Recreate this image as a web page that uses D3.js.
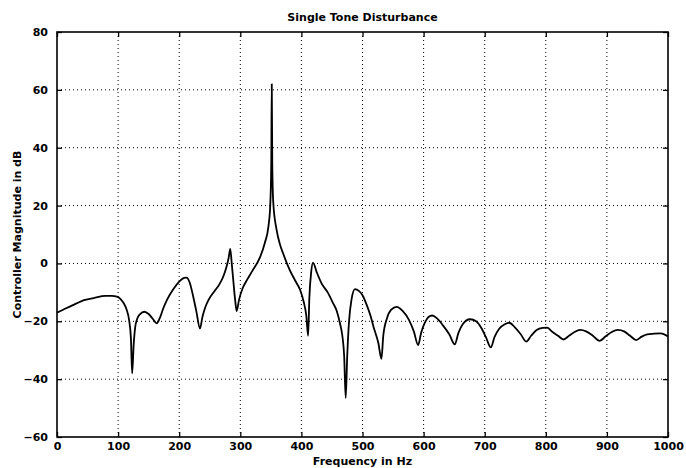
<!DOCTYPE html>
<html>
<head>
<meta charset="utf-8">
<script src="https://cdn.jsdelivr.net/npm/d3@7"></script>
<style>
  html, body { margin: 0; padding: 0; background: #fff; }
  text { font-family: "DejaVu Sans", sans-serif; font-weight: bold; fill: #000; }
</style>
</head>
<body>
<svg id="chart" width="686" height="468"></svg>
<script>
const title = "Single Tone Disturbance";
const xLabel = "Frequency in Hz";
const yLabel = "Controller Magnitude in dB";
const xTicks = [0, 100, 200, 300, 400, 500, 600, 700, 800, 900, 1000];
const yTicks = [-60, -40, -20, 0, 20, 40, 60, 80];

const freq = [0, 10, 25, 46, 60, 79, 90, 98, 104, 109, 114, 118, 121, 123, 125.5, 128, 131, 136, 143, 150,
  157, 163, 168, 174, 180, 190, 200, 208, 212, 217, 223, 228, 234, 238, 243, 248, 258, 265, 272, 277,
  281, 283.5, 286, 289, 291.5, 294, 298, 304, 311, 320, 332, 340, 346, 349, 350.7, 351.5, 352.3, 354, 359.5, 365,
  370, 381, 390, 398, 404, 408, 411, 413, 416, 419, 425, 433, 443, 452, 458, 463, 467, 470, 472.5, 475,
  478, 482, 487.7, 494, 500, 507, 513, 518, 526, 531, 534, 540, 547, 556, 566, 576, 584, 591, 596, 602,
  608, 614, 622, 632, 642, 651, 657, 664, 676, 686, 695, 702, 710, 716, 724, 733, 740, 749, 759, 768,
  776, 785, 795, 802, 810, 820, 829, 838, 847, 856, 866, 877, 888, 898, 908, 918, 928, 938, 948, 957,
  966, 977, 988, 1000];
const magDb = [-17, -16, -14.5, -12.6, -12, -11.2, -11.2, -11.5, -12.3, -13.7, -16, -19.6, -26, -38, -28, -22, -19.3, -17.5, -16.7, -17.5,
  -19.2, -20.7, -19, -15.5, -12.6, -9, -6.3, -5, -4.9, -6.5, -11.5, -16.5, -22.5, -18.5, -15, -12.6, -9.5, -7.5, -4.6, -1.5,
  2, 5, 0, -7, -12.5, -16.5, -12.5, -8.5, -5.7, -2.5, 2, 7, 12.7, 20, 35, 62, 35, 20.9, 11.5, 6.5,
  3.5, -2.3, -6, -9.2, -13.5, -18, -25, -12, -3, 0.3, -3, -6.9, -10, -13.8, -16.5, -20.6, -25, -32, -46.5, -32,
  -20, -12.5, -8.9, -9.5, -11, -14.4, -18, -21.9, -27.6, -33, -25, -19, -16, -15, -16.5, -19.5, -23.5, -28.2, -24, -20.5,
  -18.5, -18, -19, -21.5, -24.5, -28, -24, -21, -19.3, -20, -22.5, -25.5, -29, -25.5, -22.5, -21, -20.5, -22, -24.5, -27,
  -25, -23, -22.3, -22.2, -23.5, -25, -26.3, -25, -23.7, -23, -23.5, -25, -26.8, -25.2, -23.7, -23, -23.5, -25, -26.5, -25.3,
  -24.5, -24.3, -24.2, -25.3];

const svg = d3.select("#chart");
const m = { left: 57, right: 686 - 668, top: 32, bottom: 468 - 437 };
const W = 686 - m.left - m.right, H = 468 - m.top - m.bottom;
const x = d3.scaleLinear().domain([0, 1000]).range([m.left, m.left + W]);
const y = d3.scaleLinear().domain([-60, 80]).range([m.top + H, m.top]);

// grid
const grid = svg.append("g");
grid.selectAll("line.gx").data(xTicks.slice(1, -1)).join("line")
  .attr("x1", d => x(d)).attr("x2", d => x(d)).attr("y1", m.top).attr("y2", m.top + H)
  .attr("stroke", "#000").attr("stroke-width", 1).attr("stroke-dasharray", "1,3");
grid.selectAll("line.gy").data(yTicks.slice(1, -1)).join("line")
  .attr("x1", m.left).attr("x2", m.left + W).attr("y1", d => y(d)).attr("y2", d => y(d))
  .attr("stroke", "#000").attr("stroke-width", 1).attr("stroke-dasharray", "1,3");

// axes with inward ticks
const fmt = d3.format("d");
const axB = svg.append("g").attr("transform", `translate(0,${m.top + H})`)
  .call(d3.axisBottom(x).tickValues(xTicks).tickSizeInner(-5).tickSizeOuter(0).tickPadding(5).tickFormat(fmt));
const axT = svg.append("g").attr("transform", `translate(0,${m.top})`)
  .call(d3.axisTop(x).tickValues(xTicks).tickSizeInner(-5).tickSizeOuter(0).tickFormat(""));
const axL = svg.append("g").attr("transform", `translate(${m.left},0)`)
  .call(d3.axisLeft(y).tickValues(yTicks).tickSizeInner(-5).tickSizeOuter(0).tickPadding(9).tickFormat(fmt));
const axR = svg.append("g").attr("transform", `translate(${m.left + W},0)`)
  .call(d3.axisRight(y).tickValues(yTicks).tickSizeInner(-5).tickSizeOuter(0).tickFormat(""));
[axB, axT, axL, axR].forEach(a => {
  a.select(".domain").remove();
  a.selectAll("line").attr("stroke", "#000").attr("stroke-width", 1.3);
  a.selectAll("text").style("font-family", "DejaVu Sans, sans-serif").style("font-weight", "bold")
    .style("font-size", "11px").attr("fill", "#000");
});

// curve
const data = freq.map((f, i) => [f, magDb[i]]);
svg.append("path").datum(data)
  .attr("fill", "none").attr("stroke", "#000").attr("stroke-width", 1.8).attr("stroke-linejoin", "round")
  .attr("d", d3.line().x(d => x(d[0])).y(d => y(d[1])).curve(d3.curveMonotoneX));

// frame
svg.append("rect").attr("x", m.left).attr("y", m.top).attr("width", W).attr("height", H)
  .attr("fill", "none").attr("stroke", "#000").attr("stroke-width", 1.6);

// labels
svg.append("text").attr("x", m.left + W / 2).attr("y", 21).attr("text-anchor", "middle")
  .style("font-size", "11px").text(title);
svg.append("text").attr("x", m.left + W / 2).attr("y", 465).attr("text-anchor", "middle")
  .style("font-size", "11px").text(xLabel);
svg.append("text").attr("transform", `translate(21,${m.top + H / 2}) rotate(-90)`).attr("text-anchor", "middle")
  .style("font-size", "11px").text(yLabel);
</script>
</body>
</html>
